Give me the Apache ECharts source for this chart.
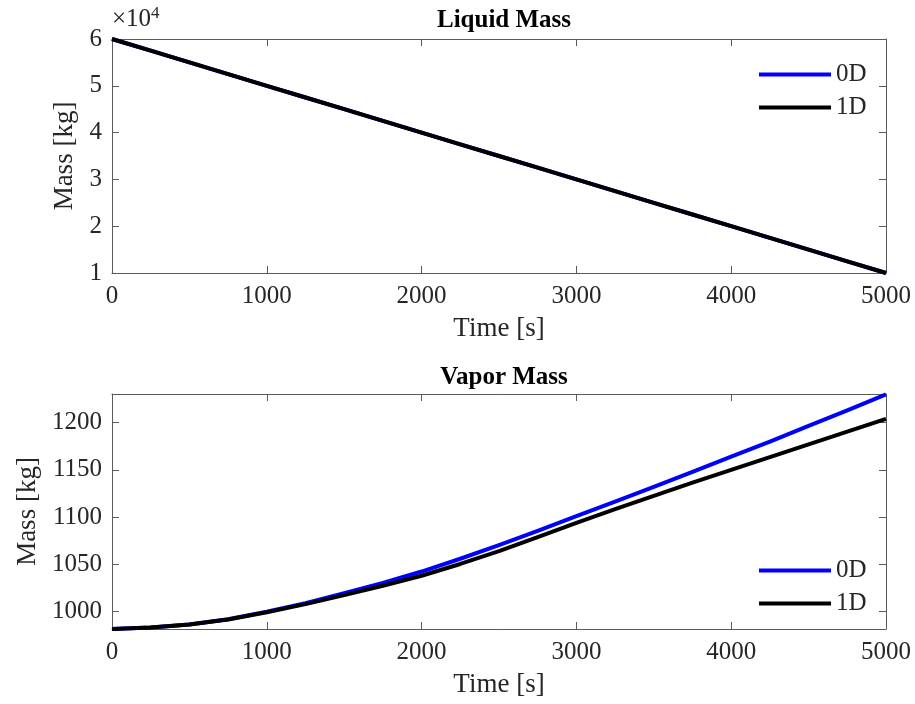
<!DOCTYPE html>
<html>
<head>
<meta charset="utf-8">
<script src="https://cdn.jsdelivr.net/npm/echarts@6/dist/echarts.min.js"></script>
<style>
  html, body { margin: 0; padding: 0; background: #fff; }
  #chart { width: 915px; height: 704px; }
</style>
</head>
<body>
<div id="chart"></div>
<script>
// Time samples [s]
const timeS = [0, 250, 500, 750, 1000, 1250, 1500, 1750, 2000, 2250, 2500,
  2750, 3000, 3250, 3500, 3750, 4000, 4250, 4500, 4750, 5000];

// Liquid mass [kg]
const liquidMass0D = [60000, 57500, 55000, 52500, 50000, 47500, 45000, 42500, 40000, 37500, 35000,
  32500, 30000, 27500, 25000, 22500, 20000, 17500, 15000, 12500, 10000];
const liquidMass1D = [60000, 57500, 55000, 52500, 50000, 47500, 45000, 42500, 40000, 37500, 35000,
  32500, 30000, 27500, 25000, 22500, 20000, 17500, 15000, 12500, 10000];

// Vapor mass [kg]
const vaporMass0D = [981.7, 983.2, 986.5, 992, 1000, 1009, 1019.5, 1030.5, 1042.5, 1056, 1070.5,
  1085.5, 1101, 1116.5, 1132, 1148, 1164, 1180, 1196.5, 1213, 1230];
const vaporMass1D = [981.7, 983.2, 986.4, 991.8, 999.5, 1008, 1017.5, 1027.5, 1038, 1050.5, 1064,
  1079, 1094, 1108.5, 1122.5, 1136.5, 1150, 1163.5, 1177, 1190.5, 1204];

// Axis ticks
const timeTicks = [0, 1000, 2000, 3000, 4000, 5000];
const liquidTicks = [10000, 20000, 30000, 40000, 50000, 60000];
const vaporTicks = [1000, 1050, 1100, 1150, 1200];

const seriesNames = ['0D', '1D'];
const seriesColors = ['#0000ff', '#000000'];

const FONT = '"Liberation Serif", "Times New Roman", serif';
const AXIS_COLOR = '#5a5a5a';
const TEXT_COLOR = '#262626';

const pairs = (xs, ys) => xs.map((x, i) => [x, ys[i]]);

const gridLeft = 112, gridWidth = 774;
const grids = [
  { left: gridLeft, top: 39, width: gridWidth, height: 234 },
  { left: gridLeft, top: 394, width: gridWidth, height: 235 }
];

function xAxes(gi) {
  const base = {
    type: 'value', gridIndex: gi, min: 0, max: 5000,
    axisLine: { show: true, onZero: false, lineStyle: { color: AXIS_COLOR, width: 1 } },
    axisTick: { show: true, inside: true, length: 7, customValues: timeTicks, lineStyle: { color: AXIS_COLOR } },
    splitLine: { show: false }
  };
  return [
    Object.assign({}, base, {
      position: 'bottom',
      name: 'Time [s]', nameLocation: 'middle', nameGap: 42,
      nameTextStyle: { fontFamily: FONT, fontSize: 27, color: TEXT_COLOR },
      axisLabel: { customValues: timeTicks, formatter: v => String(v), fontFamily: FONT, fontSize: 25, color: TEXT_COLOR, margin: 11 }
    }),
    Object.assign({}, base, { position: 'top', axisLabel: { show: false } })
  ];
}

function yAxes(gi, min, max, ticks, formatter, nameGap) {
  const base = {
    type: 'value', gridIndex: gi, min: min, max: max,
    axisLine: { show: true, onZero: false, lineStyle: { color: AXIS_COLOR, width: 1 } },
    axisTick: { show: true, inside: true, length: 7, customValues: ticks, lineStyle: { color: AXIS_COLOR } },
    splitLine: { show: false }
  };
  return [
    Object.assign({}, base, {
      position: 'left',
      name: 'Mass [kg]', nameLocation: 'middle', nameGap: nameGap,
      nameTextStyle: { fontFamily: FONT, fontSize: 27, color: TEXT_COLOR },
      axisLabel: { customValues: ticks, formatter: formatter, fontFamily: FONT, fontSize: 25, color: TEXT_COLOR, margin: 10 }
    }),
    Object.assign({}, base, { position: 'right', axisLabel: { show: false } })
  ];
}

const xAxis = xAxes(0).concat(xAxes(1));
const yAxis = yAxes(0, 10000, 60000, liquidTicks, v => String(v / 10000), 34)
  .concat(yAxes(1, 981.7, 1230.3, vaporTicks, v => String(v), 70));

function lineSeries(name, color, xi, yi, data) {
  return {
    name: name, type: 'line', xAxisIndex: xi, yAxisIndex: yi,
    data: data, showSymbol: false, symbol: 'none', smooth: false,
    lineStyle: { color: color, width: 4, join: 'round' }, itemStyle: { color: color },
    animation: false
  };
}

const series = [
  lineSeries(seriesNames[0], seriesColors[0], 0, 0, pairs(timeS, liquidMass0D)),
  lineSeries(seriesNames[1], seriesColors[1], 0, 0, pairs(timeS, liquidMass1D)),
  lineSeries(seriesNames[0], seriesColors[0], 2, 2, pairs(timeS, vaporMass0D)),
  lineSeries(seriesNames[1], seriesColors[1], 2, 2, pairs(timeS, vaporMass1D))
];

function legendAt(top) {
  return {
    data: seriesNames.map(n => ({ name: n, icon: 'rect' })),
    orient: 'vertical', left: 754, top: top,
    itemWidth: 72, itemHeight: 4, itemGap: 8,
    textStyle: { fontFamily: FONT, fontSize: 25, color: TEXT_COLOR, padding: [0, 0, 0, 0] },
    selectedMode: false
  };
}

const chart = echarts.init(document.getElementById('chart'), null, { renderer: 'canvas' });
chart.setOption({
  backgroundColor: '#ffffff',
  animation: false,
  title: [
    { text: 'Liquid Mass', left: gridLeft + gridWidth / 2, top: 3, textAlign: 'center',
      textStyle: { fontFamily: FONT, fontSize: 25, fontWeight: 'bold', color: '#000' } },
    { text: 'Vapor Mass', left: gridLeft + gridWidth / 2, top: 360, textAlign: 'center',
      textStyle: { fontFamily: FONT, fontSize: 25, fontWeight: 'bold', color: '#000' } }
  ],
  grid: grids,
  xAxis: xAxis,
  yAxis: yAxis,
  legend: [legendAt(57), legendAt(553)],
  series: series,
  graphic: [{
    type: 'text', left: 112, top: 5,
    style: {
      text: '×10{sup|4}',
      fontFamily: FONT, fontSize: 25, fill: TEXT_COLOR,
      rich: { sup: { fontFamily: FONT, fontSize: 17, verticalAlign: 'top', padding: [0, 0, 12, 0] } }
    }
  }]
});
</script>
</body>
</html>
